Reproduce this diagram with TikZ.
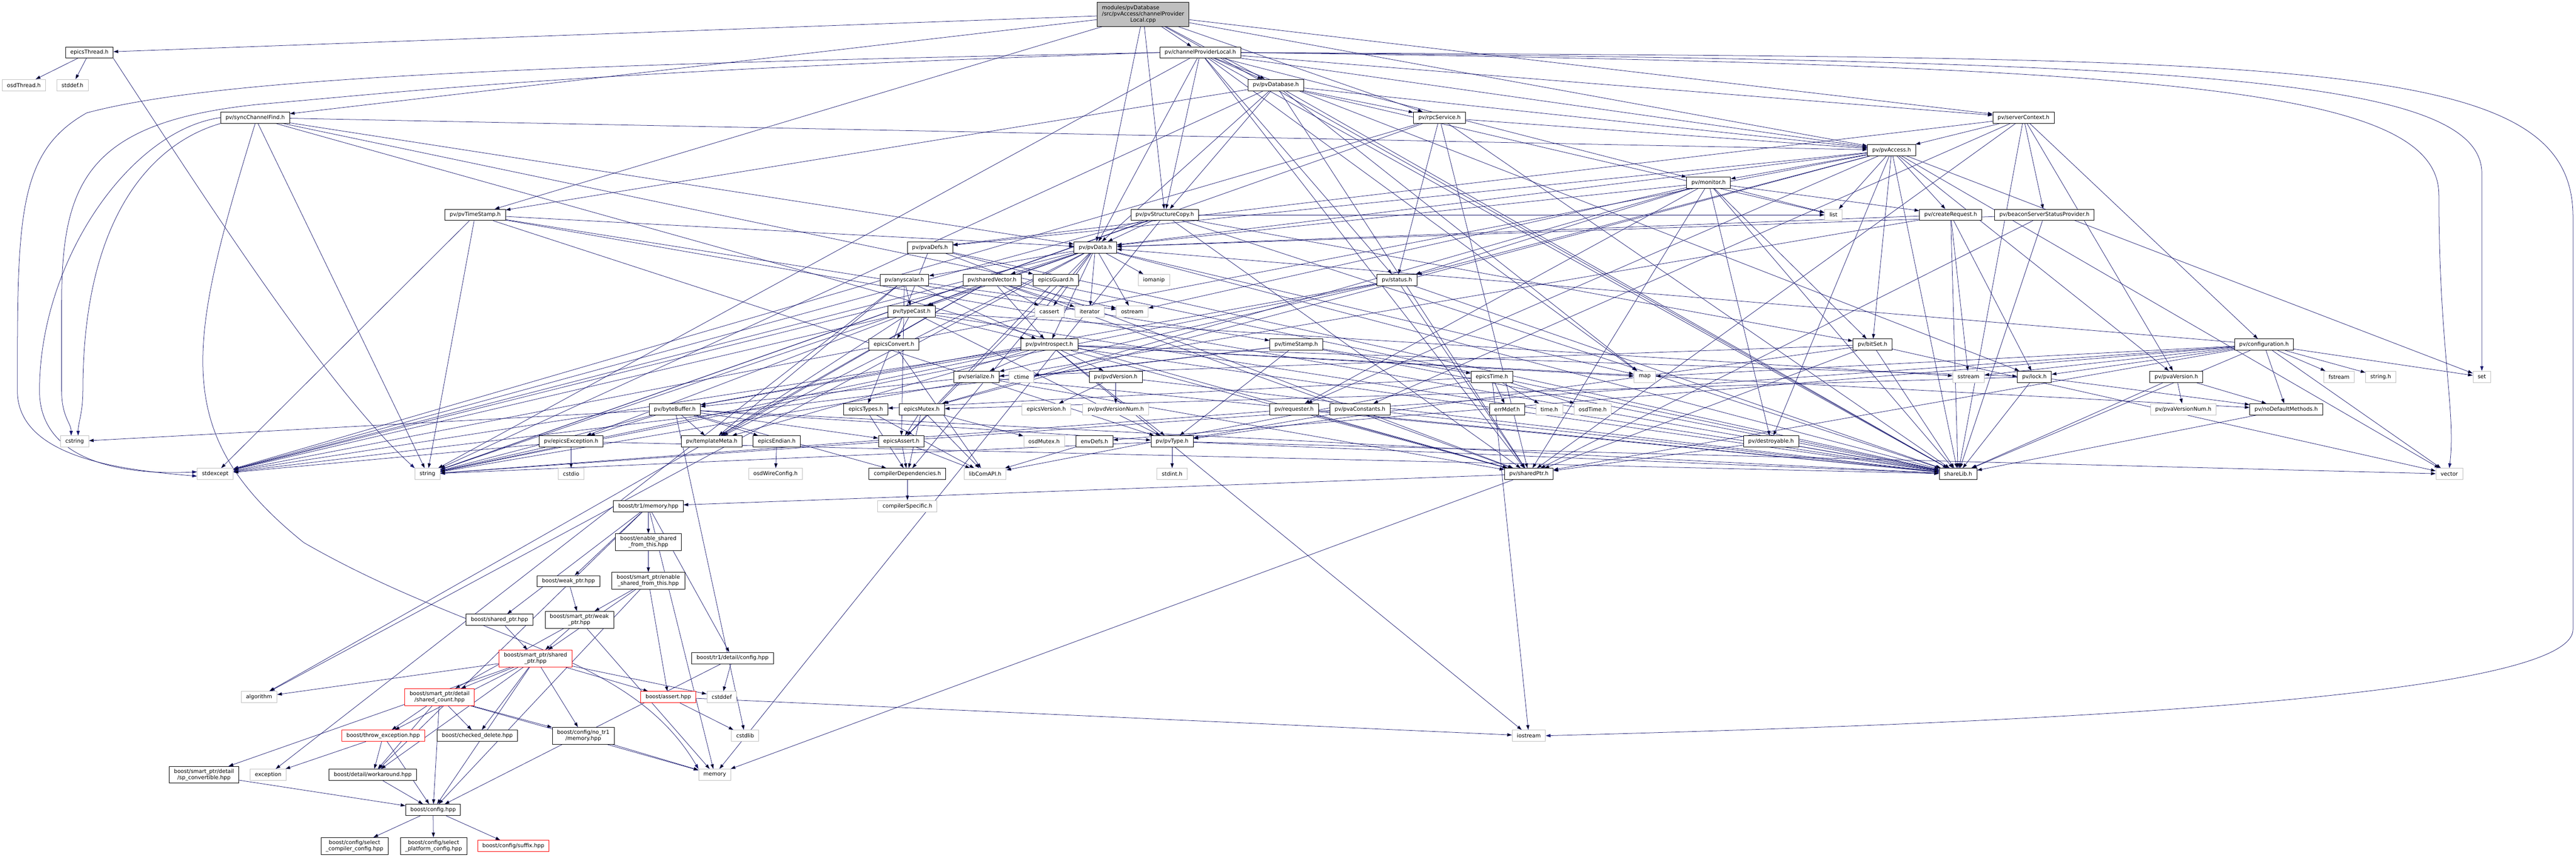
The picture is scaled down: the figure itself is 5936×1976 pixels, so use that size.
\documentclass[tikz,border=0pt]{standalone}
\usepackage{fontspec}
\setmainfont{DejaVu Sans}
\usepackage{tikz}
\usetikzlibrary{arrows.meta, backgrounds}
\definecolor{edgeblue}{HTML}{191970}
\definecolor{extgray}{HTML}{BFBFBF}

\begin{document}
\begin{tikzpicture}[x=1bp, y=-1bp,
    font=\fontsize{12.5}{14.5}\selectfont,
    every node/.style={draw=black, fill=white, line width=1bp, inner xsep=11bp, inner ysep=6bp, minimum height=26bp, align=center},
    ext/.style={draw=extgray},
    trunc/.style={draw=red},
    root/.style={fill=extgray},
    dep/.style={draw=edgeblue, line width=0.9bp, -{Triangle[length=11bp, width=7.5bp]}},
  ]
  \useasboundingbox (0,0) rectangle (5936,1976);

  % top of the graph
  \node[root] (cpp) at (2634,33) {\begin{tabular}{@{}l@{}}modules/pvDatabase\\/src/pvAccess/channelProvider\\\multicolumn{1}{@{}c@{}}{Local.cpp}\end{tabular}};
  \node (epicsthread) at (206,121) {epicsThread.h};
  \node (chlocal) at (2766,121) {pv/channelProviderLocal.h};
  \node[ext] (osdthread) at (55,196) {osdThread.h};
  \node[ext] (stddef) at (167,196) {stddef.h};
  \node (pvdatabase) at (2940,196) {pv/pvDatabase.h};
  \node (synccf) at (588,271) {pv/syncChannelFind.h};
  \node (rpcservice) at (3317,271) {pv/rpcService.h};
  \node (servercontext) at (4663,271) {pv/serverContext.h};
  \node (pvaccess) at (4359,346) {pv/pvAccess.h};
  \node (monitor) at (3937,421) {pv/monitor.h};
  \node (pvtimestamp) at (1095,495) {pv/pvTimeStamp.h};
  \node (structcopy) at (2684,495) {pv/pvStructureCopy.h};
  \node[ext] (list) at (4225,495) {list};
  \node (createreq) at (4495,495) {pv/createRequest.h};
  \node (beacon) at (4711,495) {pv/beaconServerStatusProvider.h};
  \node (pvadefs) at (2143,570) {pv/pvaDefs.h};
  \node (pvdata) at (2524,570) {pv/pvData.h};
  \node (anyscalar) at (2084,645) {pv/anyscalar.h};
  \node (sharedvec) at (2286,645) {pv/sharedVector.h};
  \node (epicsguard) at (2433,645) {epicsGuard.h};
  \node[ext] (iomanip) at (2659,645) {iomanip};
  \node (status) at (3219,645) {pv/status.h};

  % pvData layer
  \node (typecast) at (2101,718) {pv/typeCast.h};
  \node[ext] (cassert) at (2418,718) {cassert};
  \node[ext] (iterator) at (2511,718) {iterator};
  \node[ext] (ostream) at (2609,718) {ostream};
  \node (epicsconvert) at (2060,794) {epicsConvert.h};
  \node (introspect) at (2418,794) {pv/pvIntrospect.h};
  \node (timestamp) at (2987,794) {pv/timeStamp.h};
  \node (bitset) at (4315,794) {pv/bitSet.h};
  \node (configuration) at (5217,794) {pv/configuration.h};
  \node (serialize) at (2250,868) {pv/serialize.h};
  \node[ext] (ctime) at (2354,868) {ctime};
  \node (pvdversion) at (2571,868) {pv/pvdVersion.h};
  \node (epicstime) at (3438,868) {epicsTime.h};
  \node[ext] (map) at (3790,868) {map};
  \node[ext] (sstream) at (4536,868) {sstream};
  \node (lock) at (4688,868) {pv/lock.h};
  \node (pvaversion) at (5015,868) {pv/pvaVersion.h};
  \node[ext] (fstream) at (5390,868) {fstream};
  \node[ext] (stringh) at (5486,868) {string.h};
  \node[ext] (set) at (5719,868) {set};
  \node (bytebuffer) at (1555,943) {pv/byteBuffer.h};
  \node (epicstypes) at (1995,943) {epicsTypes.h};
  \node (epicsmutex) at (2124,943) {epicsMutex.h};
  \node[ext] (epicsversion) at (2411,943) {epicsVersion.h};
  \node[ext] (pvdversionnum) at (2571,943) {pv/pvdVersionNum.h};
  \node (requester) at (2982,943) {pv/requester.h};
  \node (pvaconstants) at (3134,943) {pv/pvaConstants.h};
  \node (errmdef) at (3473,943) {errMdef.h};
  \node[ext] (timeh) at (3570,943) {time.h};
  \node[ext] (osdtime) at (3670,943) {osdTime.h};
  \node[ext] (pvaversionnum) at (5031,943) {pv/pvaVersionNum.h};
  \node (nodefault) at (5268,943) {pv/noDefaultMethods.h};
  \node[ext] (cstring) at (172,1017) {cstring};
  \node (epicsexception) at (1316,1017) {pv/epicsException.h};
  \node (templatemeta) at (1640,1017) {pv/templateMeta.h};
  \node (epicsendian) at (1790,1017) {epicsEndian.h};
  \node (epicsassert) at (2077,1017) {epicsAssert.h};
  \node[ext] (osdmutex) at (2406,1017) {osdMutex.h};
  \node (envdefs) at (2522,1017) {envDefs.h};
  \node (pvtype) at (2701,1017) {pv/pvType.h};
  \node (destroyable) at (4081,1017) {pv/destroyable.h};
  \node[ext] (stdexcept) at (496,1092) {stdexcept};
  \node[ext] (string) at (985,1092) {string};
  \node[ext] (cstdio) at (1316,1092) {cstdio};
  \node[ext] (osdwire) at (1787,1092) {osdWireConfig.h};
  \node (compilerdeps) at (2091,1092) {compilerDependencies.h};
  \node[ext] (libcomapi) at (2270,1092) {libComAPI.h};
  \node[ext] (stdint) at (2701,1092) {stdint.h};
  \node (sharedptr) at (3523,1092) {pv/sharedPtr.h};
  \node (sharelib) at (4512,1092) {shareLib.h};
  \node[ext] (vector) at (5644,1092) {vector};
  \node[ext] (compilerspecific) at (2091,1166) {compilerSpecific.h};

  % boost part
  \node (trmemory) at (1494,1166) {boost/tr1/memory.hpp};
  \node (enableshared) at (1494,1249) {boost/enable\_shared\\\_from\_this.hpp};
  \node (weakptr) at (1310,1339) {boost/weak\_ptr.hpp};
  \node (spenableshared) at (1494,1338) {boost/smart\_ptr/enable\\\_shared\_from\_this.hpp};
  \node (sharedptrhpp) at (1151,1428) {boost/shared\_ptr.hpp};
  \node (spweakptr) at (1335,1428) {boost/smart\_ptr/weak\\\_ptr.hpp};
  \node[trunc] (spsharedptr) at (1234,1517) {boost/smart\_ptr/shared\\\_ptr.hpp};
  \node (trconfig) at (1688,1516) {boost/tr1/detail/config.hpp};
  \node[ext] (algorithm) at (597,1606) {algorithm};
  \node[trunc] (sharedcount) at (1013,1606) {boost/smart\_ptr/detail\\/shared\_count.hpp};
  \node[trunc] (assert) at (1540,1606) {boost/assert.hpp};
  \node[ext] (cstddef) at (1663,1606) {cstddef};
  \node[trunc] (throwexc) at (883,1695) {boost/throw\_exception.hpp};
  \node (checkeddelete) at (1100,1695) {boost/checked\_delete.hpp};
  \node (notrmemory) at (1344,1695) {boost/config/no\_tr1\\/memory.hpp};
  \node[ext] (cstdlib) at (1717,1695) {cstdlib};
  \node[ext] (iostream) at (3523,1695) {iostream};
  \node (spconvertible) at (470,1785) {boost/smart\_ptr/detail\\/sp\_convertible.hpp};
  \node[ext] (exception) at (618,1785) {exception};
  \node (workaround) at (859,1785) {boost/detail/workaround.hpp};
  \node[ext] (memory) at (1647,1785) {memory};
  \node (boostconfig) at (998,1866) {boost/config.hpp};
  \node (selcompiler) at (817,1949) {boost/config/select\\\_compiler\_config.hpp};
  \node (selplatform) at (999,1949) {boost/config/select\\\_platform\_config.hpp};
  \node[trunc] (suffix) at (1183,1949) {boost/config/suffix.hpp};

  % include edges, drawn behind the boxes
  \begin{scope}[on background layer]
    \draw[dep] (cpp) edge (epicsthread) edge (synccf) edge (pvtimestamp) edge (chlocal) edge (pvdatabase) edge (structcopy) edge (rpcservice) edge (servercontext) edge (pvaccess) edge (pvdata) edge (sharelib);
    \draw[dep] (chlocal) edge (pvdatabase) edge (structcopy) edge (pvdata) edge (pvaccess) edge (servercontext) edge (status) edge (monitor) edge (lock) edge (sharelib) edge (map) edge (string) edge (sharedptr);
    % long detours round the left and right sides
    \draw[dep] (chlocal.west) .. controls (1200,150) and (500,180) .. (200,260) .. controls (40,350) and (40,500) .. (40,900) .. controls (40,1060) and (300,1084) .. ([yshift=-5bp]stdexcept.west);
    \draw[dep] (chlocal.west) .. controls (1300,165) and (900,215) .. (600,240) .. controls (200,280) and (142,420) .. (142,700) -- (142,900) .. controls (142,960) and (164,975) .. ([xshift=-8bp]cstring.north);
    \draw[dep] (synccf.south west) .. controls (350,330) and (191,500) .. (191,900) .. controls (191,950) and (180,975) .. ([xshift=8bp]cstring.north);
    \draw[dep] (synccf.west) .. controls (300,300) and (91,600) .. (91,900) .. controls (91,1070) and (300,1095) .. ([yshift=5bp]stdexcept.west);
    \draw[dep] (chlocal.east) .. controls (5000,140) and (5719,170) .. (5719,400) -- (set.north);
    \draw[dep] (chlocal.east) .. controls (5000,150) and (5620,200) .. (5620,450) .. controls (5620,800) and (5660,950) .. (vector.north);
    \draw[dep] (chlocal.east) .. controls (5300,135) and (5929,120) .. (5929,500) -- (5929,1450) .. controls (5929,1620) and (4500,1670) .. (iostream.east);
    \draw[dep] (epicsthread.south east) .. controls (500,500) and (760,900) .. (string.north west);
    \draw[dep] (synccf.south) .. controls (430,800) and (390,1000) .. (700,1250) .. controls (1100,1480) and (1450,1500) .. (memory.north west);
    \draw[dep] (pvdatabase) edge (structcopy) edge (pvdata) edge (pvtimestamp) edge (rpcservice) edge (pvaccess) edge (list) edge (map) edge (sharelib) edge (string) edge (sharedptr);
    \draw[dep] (synccf) edge (string) edge (pvdata) edge (pvaccess) edge (sharelib) edge (sharedptr);
    \draw[dep] (pvtimestamp) edge (string) edge (stdexcept) edge (timestamp) edge (pvdata) edge (pvtype) edge (sharelib);
    \draw[dep] (structcopy) edge (pvdata) edge (bitset) edge (list) edge (string) edge (stdexcept) edge (sharelib) edge (sharedptr) edge (memory);
    \draw[dep] (rpcservice) edge (stdexcept) edge (string) edge (sharedptr) edge (status) edge (pvaccess) edge (sharelib);
    \draw[dep] (servercontext) edge (pvaccess) edge (beacon) edge (pvaconstants) edge (pvaversion) edge (configuration) edge (pvadefs) edge (sharedptr) edge (sharelib);
    \draw[dep] (pvaccess) edge (vector) edge (set) edge (stdexcept) edge (epicsmutex) edge (status) edge (destroyable) edge (monitor) edge (pvdata) edge (createreq) edge (bitset) edge (pvaversion) edge (requester) edge (sharelib) edge (list) edge (pvadefs);
    \draw[dep] (monitor) edge (list) edge (ostream) edge (epicsmutex) edge (status) edge (pvdata) edge (sharedptr) edge (bitset) edge (createreq) edge (requester) edge (destroyable) edge (sharelib);
    \draw[dep] (createreq) edge (string) edge (sstream) edge (pvdata) edge (lock) edge (sharelib);
    \draw[dep] (beacon) edge (pvdata) edge (sharedptr) edge (sharelib);
    \draw[dep] (pvadefs) edge (epicsguard) edge (epicstypes) edge (sharelib) edge (sharedptr);
    \draw[dep] (pvdata) edge (string) edge (map) edge (stdexcept) edge (algorithm) edge (iterator) edge (iomanip) edge (cassert) edge (ostream) edge (epicsassert) edge (introspect) edge (typecast) edge (anyscalar) edge (sharedvec) edge (templatemeta) edge (sharelib) edge (compilerdeps);
    \draw[dep] (anyscalar) edge (ostream) edge (exception) edge (epicsassert) edge (templatemeta) edge (typecast) edge (introspect);
    \draw[dep] (sharedvec) edge (ostream) edge (algorithm) edge (stdexcept) edge (iterator) edge (cassert) edge (sharedptr) edge (introspect) edge (typecast) edge (templatemeta);
    \draw[dep] (epicsguard) edge (epicsassert);
    \draw[dep] (typecast) edge (stdexcept) edge (sstream) edge (epicsconvert) edge (pvtype) edge (templatemeta) edge (epicsexception) edge (sharelib) edge (introspect);
    \draw[dep] (epicsconvert) edge (libcomapi);
    \draw[dep] (introspect) edge (string) edge (stdexcept) edge (iostream) edge (map) edge (lock) edge (nodefault) edge (pvtype) edge (bytebuffer) edge (serialize) edge (pvdversion) edge (sharedptr) edge (templatemeta) edge (sharelib);
    \draw[dep] (serialize) edge (bytebuffer) edge (sharedptr) edge (sharelib);
    \draw[dep] (bytebuffer) edge (string) edge (cstring) edge (cstdlib) edge (epicsendian) edge (epicsassert) edge (compilerdeps) edge (templatemeta) edge (pvtype) edge (epicsexception) edge (sharelib);
    \draw[dep] (pvdversion) edge (epicsversion) edge (pvdversionnum) edge (sharelib);
    \draw[dep] (timestamp) edge (epicstime) edge (pvtype) edge (ctime) edge (stdexcept) edge (sharelib);
    \draw[dep] (epicstime) edge (errmdef) edge (timeh) edge (osdtime) edge (epicstypes) edge (libcomapi) edge (iostream);
    \draw[dep] (epicsmutex) edge (epicsassert) edge (osdmutex) edge (compilerdeps) edge (libcomapi);
    \draw[dep] (epicstypes) edge (compilerdeps) edge (libcomapi);
    \draw[dep] (epicsassert) edge (compilerdeps) edge (libcomapi);
    \draw[dep] (epicsendian) edge (osdwire);
    \draw[dep] (envdefs) edge (libcomapi);
    \draw[dep] (compilerdeps) edge (compilerspecific);
    \draw[dep] (pvtype) edge (string) edge (vector) edge (stdint) edge (sharelib);
    \draw[dep] (epicsexception) edge (stdexcept) edge (string) edge (cstdio) edge (sharelib);
    \draw[dep] (lock) edge (epicsmutex) edge (nodefault) edge (sharelib);
    \draw[dep] (pvaversion) edge (pvaversionnum) edge (nodefault) edge (sharelib);
    \draw[dep] (configuration) edge (string) edge (map) edge (set) edge (vector) edge (fstream) edge (stringh) edge (sstream) edge (nodefault) edge (lock) edge (sharedptr) edge (sharelib) edge (envdefs) edge (pvdata);
    \draw[dep] (nodefault) edge (sharelib);
    \draw[dep] (destroyable) edge (sharedptr) edge (sharelib);
    \draw[dep] (requester) edge (string) edge (sharedptr) edge (sharelib);
    \draw[dep] (status) edge (string) edge (serialize) edge (bytebuffer) edge (sharedptr) edge (sharelib);
    \draw[dep] (pvaconstants) edge (pvtype) edge (sharelib);
    \draw[dep] (bitset) edge (vector) edge (pvtype) edge (serialize) edge (sharedptr) edge (sharelib);
    \draw[dep] (sharedptr) edge (trmemory) edge (memory);
    \draw[dep] (epicsthread) edge (osdthread) edge (stddef);
    % boost headers
    \draw[dep] (trmemory) edge (trconfig) edge (sharedptrhpp) edge (weakptr) edge (enableshared) edge (workaround) edge (memory);
    \draw[dep] (enableshared) edge (spenableshared);
    \draw[dep] (spenableshared) edge (spweakptr) edge (spsharedptr) edge (assert) edge (boostconfig);
    \draw[dep] (weakptr) edge (spweakptr);
    \draw[dep] (sharedptrhpp) edge (spsharedptr);
    \draw[dep] (spweakptr) edge (spsharedptr) edge (sharedcount) edge (memory);
    \draw[dep] (spsharedptr) edge (algorithm) edge (sharedcount) edge (throwexc) edge (checkeddelete) edge (notrmemory) edge (workaround) edge (boostconfig) edge (assert) edge (spconvertible) edge (cstddef);
    \draw[dep] (sharedcount) edge (throwexc) edge (checkeddelete) edge (notrmemory) edge (workaround) edge (boostconfig) edge (memory);
    \draw[dep] (throwexc) edge (exception) edge (workaround) edge (boostconfig);
    \draw[dep] (workaround) edge (boostconfig);
    \draw[dep] (spconvertible) edge (boostconfig);
    \draw[dep] (boostconfig) edge (selcompiler) edge (selplatform) edge (suffix);
    \draw[dep] (notrmemory) edge (memory);
    \draw[dep] (trconfig) edge (cstddef) edge (boostconfig);
    \draw[dep] (assert) edge (cstdlib) edge (iostream);
  \end{scope}
\end{tikzpicture}
\end{document}
